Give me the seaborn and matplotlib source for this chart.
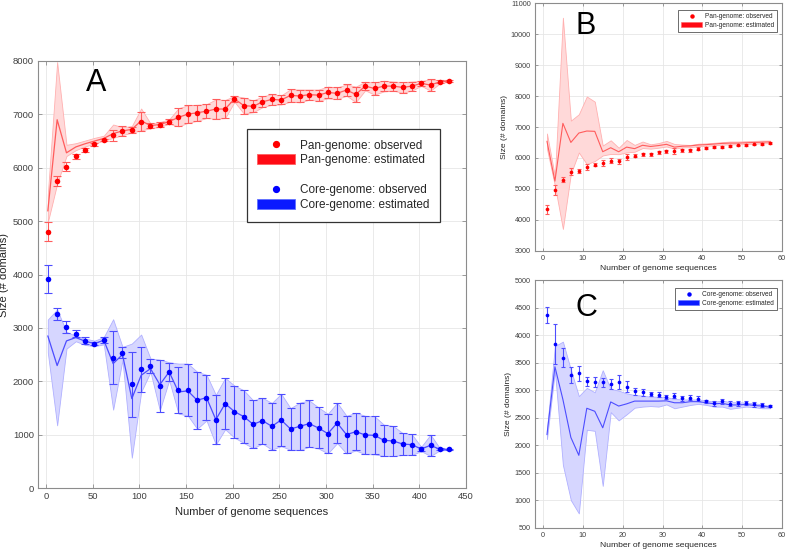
import numpy as np
import pandas as pd
import matplotlib
matplotlib.use("Agg")
import matplotlib.pyplot as plt
import seaborn as sns
from matplotlib.patches import Patch
from matplotlib.lines import Line2D

sns.set_theme(style="whitegrid")
plt.rcParams['font.family'] = ['Liberation Sans', 'DejaVu Sans']

# ---------------- Panel A data ----------------
a_x = [2, 12, 22, 32, 42, 52, 62, 72, 82, 92, 102, 112, 122, 132, 142, 152, 162, 172, 182, 192, 202, 212,
       222, 232, 242, 252, 262, 272, 282, 292, 302, 312, 322, 332, 342, 352, 362, 372, 382, 392, 402, 412, 422, 432]

a_pan_obs = [4800, 5750, 6020, 6215, 6325, 6440, 6520, 6605, 6690, 6710, 6865, 6785, 6810, 6865, 6945, 7005,
             7030, 7060, 7100, 7100, 7290, 7165, 7150, 7235, 7280, 7270, 7355, 7345, 7370, 7360, 7410, 7395,
             7455, 7375, 7530, 7485, 7530, 7530, 7505, 7530, 7580, 7550, 7610, 7625]
a_pan_err = [175, 90, 80, 50, 38, 25, 20, 95, 95, 55, 175, 45, 45, 40, 170, 165, 150, 130, 180, 170, 55, 150,
             110, 100, 100, 85, 115, 120, 95, 105, 110, 110, 105, 145, 80, 115, 100, 85, 100, 85, 45, 105, 30, 10]
a_pan_est = [5190, 6900, 6280, 6390, 6450, 6500, 6550, 6640, 6690, 6720, 6880, 6790, 6810, 6865, 6945, 7005,
             7030, 7060, 7100, 7100, 7290, 7165, 7150, 7235, 7280, 7270, 7355, 7345, 7370, 7360, 7410, 7395,
             7455, 7375, 7530, 7485, 7530, 7530, 7505, 7530, 7580, 7550, 7610, 7625]
a_pan_lo = [4980, 5700, 6220, 6330, 6400, 6450, 6510, 6560, 6610, 6660, 6700, 6740, 6765, 6825, 6775, 6840,
            6880, 6930, 6920, 6930, 7235, 7015, 7040, 7135, 7180, 7185, 7240, 7225, 7275, 7255, 7300, 7285,
            7350, 7230, 7450, 7370, 7430, 7445, 7405, 7445, 7535, 7445, 7580, 7615]
a_pan_hi = [5500, 7980, 6430, 6460, 6510, 6560, 6600, 6810, 6760, 6780, 7110, 6830, 6855, 6905, 7115, 7170,
            7180, 7190, 7280, 7270, 7345, 7315, 7260, 7335, 7380, 7355, 7470, 7465, 7465, 7465, 7520, 7505,
            7560, 7520, 7610, 7600, 7630, 7615, 7605, 7615, 7625, 7655, 7640, 7635]

a_core_obs = [3910, 3262, 3019, 2894, 2762, 2706, 2781, 2444, 2537, 1944, 2225, 2281, 1912, 2175, 1837, 1844,
              1644, 1694, 1281, 1581, 1431, 1337, 1194, 1262, 1156, 1275, 1106, 1156, 1206, 1125, 1019, 1219,
              1000, 1056, 994, 987, 894, 881, 825, 812, 731, 800, 725, 725]
a_core_err = [260, 110, 112, 62, 65, 35, 56, 494, 97, 606, 422, 128, 487, 169, 431, 487, 534, 428, 465, 481,
              487, 493, 447, 428, 437, 490, 390, 444, 434, 384, 371, 378, 353, 353, 359, 356, 293, 281, 206, 194,
              40, 200, 20, 10]
a_core_est = [2850, 2294, 2756, 2819, 2750, 2706, 2769, 2331, 2500, 1675, 2112, 2237, 1937, 2175, 1800, 1820,
              1644, 1694, 1281, 1581, 1431, 1337, 1194, 1262, 1156, 1275, 1106, 1156, 1206, 1125, 1019, 1219,
              1000, 1056, 994, 987, 894, 881, 825, 812, 731, 800, 725, 725]
a_core_lo = [2540, 1175, 2612, 2750, 2680, 2660, 2690, 1469, 2400, 569, 1800, 2175, 1456, 2019, 1394, 1357,
             1110, 1266, 816, 1100, 944, 844, 747, 834, 719, 785, 716, 712, 772, 741, 648, 841, 647, 703, 635,
             631, 601, 600, 619, 618, 691, 600, 705, 715]
a_core_hi = [3156, 3344, 2925, 2850, 2800, 2760, 2830, 3162, 2644, 2706, 2875, 2425, 2406, 2356, 2331, 2331,
             2178, 2122, 1746, 2062, 1918, 1830, 1641, 1690, 1593, 1765, 1496, 1600, 1640, 1509, 1390, 1597,
             1353, 1409, 1353, 1343, 1187, 1162, 1031, 1006, 771, 1000, 745, 735]

# ---------------- Panels B & C data ----------------
bc_x = [1, 3, 5, 7, 9, 11, 13, 15, 17, 19, 21, 23, 25, 27, 29, 31, 33, 35, 37, 39, 41, 43, 45, 47, 49, 51, 53, 55, 57]

b_obs = [4333, 4973, 5298, 5558, 5591, 5721, 5786, 5851, 5916, 5894, 6014, 6068, 6111, 6111, 6176, 6220, 6209,
         6241, 6241, 6295, 6328, 6350, 6360, 6382, 6404, 6425, 6436, 6447, 6480]
b_err = [160, 160, 87, 120, 65, 97, 60, 97, 87, 76, 97, 50, 50, 40, 60, 50, 97, 50, 50, 50, 30, 30, 30, 30, 30,
         30, 30, 30, 25]
b_est = [6540, 5250, 7119, 6501, 6805, 6870, 6860, 6200, 6330, 6200, 6350, 6300, 6410, 6370, 6400, 6440, 6350,
         6380, 6390, 6420, 6430, 6450, 6470, 6480, 6480, 6490, 6500, 6510, 6520]
b_lo = [6300, 5100, 3704, 5493, 6176, 5800, 5900, 6080, 6130, 6120, 6180, 6200, 6320, 6300, 6330, 6370, 6300,
        6340, 6350, 6380, 6390, 6410, 6430, 6440, 6440, 6450, 6460, 6470, 6480]
b_hi = [6790, 5400, 10534, 7206, 7412, 7986, 7820, 6400, 6570, 6330, 6580, 6420, 6530, 6440, 6480, 6550, 6450,
        6430, 6420, 6460, 6470, 6490, 6510, 6530, 6530, 6540, 6550, 6560, 6560]

c_obs = [4358, 3837, 3589, 3280, 3304, 3159, 3147, 3141, 3110, 3141, 3062, 2977, 2959, 2929, 2916, 2874, 2898,
         2850, 2862, 2844, 2795, 2759, 2795, 2753, 2759, 2765, 2741, 2723, 2704]
c_err = [148, 357, 178, 148, 140, 82, 82, 80, 85, 130, 100, 60, 60, 45, 50, 40, 45, 45, 40, 50, 30, 40, 40, 40,
         40, 30, 40, 35, 20]
c_est = [2190, 3425, 2830, 2140, 1815, 2670, 2615, 2315, 2785, 2710, 2750, 2800, 2800, 2800, 2800, 2805, 2770,
         2770, 2790, 2790, 2770, 2750, 2760, 2730, 2730, 2740, 2720, 2710, 2690]
c_lo = [2110, 3350, 1640, 1000, 760, 2280, 2260, 1260, 2600, 2450, 2560, 2680, 2700, 2710, 2700, 2740, 2670,
        2700, 2730, 2750, 2730, 2700, 2700, 2660, 2680, 2700, 2690, 2670, 2670]
c_hi = [2280, 3800, 3880, 3370, 2890, 3040, 2960, 3360, 3020, 2990, 2940, 2910, 2900, 2880, 2880, 2870, 2840,
        2830, 2830, 2830, 2810, 2790, 2810, 2780, 2780, 2770, 2760, 2740, 2710]

labels_pan = ["Pan-genome: observed", "Pan-genome: estimated"]
labels_core = ["Core-genome: observed", "Core-genome: estimated"]
xlabel = "Number of genome sequences"
ylabel = "Size (# domains)"

RED = "#ff0000"
BLUE = "#0000ff"

fig = plt.figure(figsize=(7.87, 5.51), dpi=100)
fig.patch.set_facecolor("white")
axA = fig.add_axes([0.0483, 0.1143, 0.5438, 0.775])
axB = fig.add_axes([0.6798, 0.545, 0.3139, 0.449])
axC = fig.add_axes([0.6798, 0.0423, 0.3139, 0.4495])


def style(ax, tick_fs, tick_len):
    ax.set_facecolor("white")
    ax.grid(True, color="#e6e6e6", linewidth=0.6)
    for s in ax.spines.values():
        s.set_visible(True)
        s.set_color("#8c8c8c")
        s.set_linewidth(0.8)
    ax.tick_params(direction="in", length=tick_len, width=0.6, color="#8c8c8c",
                   labelcolor="#404040", labelsize=tick_fs, top=True, right=True,
                   bottom=True, left=True, pad=3)
    ax.set_axisbelow(True)


def draw(ax, x, obs, err, est, lo, hi, color, fill, edge, ecol, ms, cap, lw):
    ax.fill_between(x, lo, hi, facecolor=fill, edgecolor=edge, linewidth=0.6, zorder=1)
    sns.lineplot(x=x, y=est, ax=ax, color=ecol, linewidth=lw, sort=False, legend=False, zorder=2)
    ax.errorbar(x, obs, yerr=err, fmt="none", ecolor=ecol, elinewidth=0.8, capsize=cap,
                capthick=0.8, zorder=3)
    sns.scatterplot(x=x, y=obs, ax=ax, color=color, s=ms, linewidth=0, zorder=4, legend=False)


# Panel A
style(axA, 6.8, 3)
draw(axA, a_x, a_pan_obs, a_pan_err, a_pan_est, a_pan_lo, a_pan_hi, RED, "#ffd9d9", "#ffb0b0",
     "#ff5c5c", 16, 3, 0.9)
draw(axA, a_x, a_core_obs, a_core_err, a_core_est, a_core_lo, a_core_hi, BLUE, "#d6d6ff", "#b0b0ff",
     "#4d4dff", 16, 3, 0.9)
axA.set_xlim(-8.5, 450)
axA.set_ylim(0, 8000)
axA.set_xticks(range(0, 451, 50))
axA.set_yticks(range(0, 8001, 1000))
axA.set_xlabel(xlabel, fontsize=8, color="#262626", labelpad=4)
axA.set_ylabel(ylabel, fontsize=8, color="#262626")
axA.yaxis.set_label_coords(-0.068, 0.5)
axA.text(0.135, 0.948, "A", transform=axA.transAxes, fontsize=22, ha="center", va="center", color="black")

hA = [Line2D([], [], marker="o", color=RED, linestyle="none", markersize=4.2),
      Patch(facecolor="#ff0a14", edgecolor="#ff6060", linewidth=0.6),
      Line2D([], [], linestyle="none"),
      Line2D([], [], marker="o", color=BLUE, linestyle="none", markersize=4.2),
      Patch(facecolor="#0a1aff", edgecolor="#6070ff", linewidth=0.6)]
lA = [labels_pan[0], labels_pan[1], " ", labels_core[0], labels_core[1]]
legA = axA.legend(hA, lA, loc="upper left", bbox_to_anchor=(0.488, 0.841), borderaxespad=0,
                  fontsize=8.5, handlelength=3.2, handleheight=0.9, handletextpad=0.4,
                  labelspacing=0.25, borderpad=0.9, fancybox=False, framealpha=1,
                  edgecolor="#333333")
legA.get_frame().set_linewidth(0.9)
for t in legA.get_texts():
    t.set_color("#262626")

# Panel B
style(axB, 5.2, 2)
draw(axB, bc_x, b_obs, b_err, b_est, b_lo, b_hi, RED, "#ffd9d9", "#ffb0b0", "#ff5c5c", 7, 1.5, 0.8)
axB.set_xlim(-2, 60)
axB.set_ylim(3000, 11000)
axB.set_xticks(range(0, 61, 10))
axB.set_yticks(range(3000, 11001, 1000))
axB.set_xlabel(xlabel, fontsize=6.1, color="#262626", labelpad=2)
axB.set_ylabel(ylabel, fontsize=6.1, color="#262626", labelpad=2)
axB.text(0.206, 0.908, "B", transform=axB.transAxes, fontsize=22, ha="center", va="center", color="black")
hB = [Line2D([], [], marker="o", color=RED, linestyle="none", markersize=2.2),
      Patch(facecolor="#ff0a14", edgecolor="#ff6060", linewidth=0.4)]
legB = axB.legend(hB, labels_pan, loc="upper right", bbox_to_anchor=(0.98, 0.973), borderaxespad=0,
                  fontsize=4.7, handlelength=3.2, handleheight=0.8, handletextpad=0.4,
                  labelspacing=0.2, borderpad=0.5, fancybox=False, framealpha=1, edgecolor="#555555")
legB.get_frame().set_linewidth(0.6)

# Panel C
style(axC, 5.2, 2)
draw(axC, bc_x, c_obs, c_err, c_est, c_lo, c_hi, BLUE, "#d6d6ff", "#b0b0ff", "#4d4dff", 7, 1.5, 0.8)
axC.set_xlim(-2, 60)
axC.set_ylim(500, 5000)
axC.set_xticks(range(0, 61, 10))
axC.set_yticks(range(500, 5001, 500))
axC.set_xlabel(xlabel, fontsize=6.1, color="#262626", labelpad=2)
axC.set_ylabel(ylabel, fontsize=6.1, color="#262626", labelpad=2)
axC.text(0.21, 0.887, "C", transform=axC.transAxes, fontsize=22, ha="center", va="center", color="black")
hC = [Line2D([], [], marker="o", color=BLUE, linestyle="none", markersize=2.2),
      Patch(facecolor="#0a1aff", edgecolor="#6070ff", linewidth=0.4)]
legC = axC.legend(hC, labels_core, loc="upper right", bbox_to_anchor=(0.98, 0.968), borderaxespad=0,
                  fontsize=4.7, handlelength=3.2, handleheight=0.8, handletextpad=0.4,
                  labelspacing=0.2, borderpad=0.5, fancybox=False, framealpha=1, edgecolor="#555555")
legC.get_frame().set_linewidth(0.6)

fig.savefig("out.png", dpi=100, facecolor="white")
